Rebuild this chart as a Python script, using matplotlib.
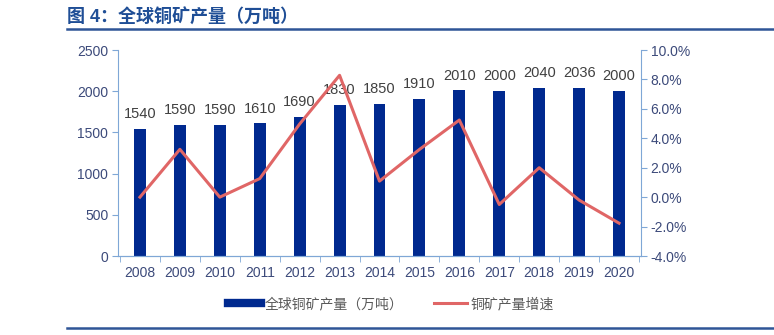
import matplotlib.pyplot as plt
from matplotlib.lines import Line2D
from matplotlib.ticker import FuncFormatter, FixedLocator

plt.rcParams['font.family'] = ['Liberation Sans', 'Noto Sans CJK SC', 'DejaVu Sans']

years = ['2008', '2009', '2010', '2011', '2012', '2013', '2014',
         '2015', '2016', '2017', '2018', '2019', '2020']
output = [1540, 1590, 1590, 1610, 1690, 1830, 1850, 1910, 2010, 2000, 2040, 2036, 2000]
growth = [0.0, 3.25, 0.0, 1.26, 4.97, 8.28, 1.09, 3.24, 5.24, -0.50, 2.00, -0.20, -1.77]

bar_color = '#00298f'
line_color = '#e06666'
axis_color = '#7fa7d6'
label_color = '#3c4a7a'
rule_color = '#2f5597'

fig = plt.figure(figsize=(7.74, 3.35), dpi=100)
ax = fig.add_axes([118 / 774, 1 - 256 / 335, (641 - 118) / 774, (256 - 50) / 335])
x = list(range(len(years)))

ax.bar(x, output, width=0.3, color=bar_color, zorder=2)
for xi, v in zip(x, output):
    ax.text(xi, v + 95, str(v), ha='center', va='bottom', fontsize=10.5, color='#404040')
ax.set_ylim(0, 2500)
ax.set_yticks(range(0, 2501, 500))
ax.set_xlim(-0.55, 12.55)
ax.set_xticks(x)
ax.set_xticklabels(years)
ax.xaxis.set_minor_locator(FixedLocator([i + 0.5 for i in range(-1, len(years))]))
ax.tick_params(axis='x', which='major', length=0, pad=7, labelsize=10, labelcolor=label_color)
ax.tick_params(axis='x', which='minor', length=4, color=axis_color, direction='out')
ax.tick_params(axis='y', length=4, color=axis_color, labelsize=10, labelcolor=label_color, pad=3)

ax2 = ax.twinx()
ax2.plot(x, growth, color=line_color, lw=2.2, zorder=3)
ax2.set_ylim(-4, 10)
ax2.set_yticks(range(-4, 11, 2))
ax2.yaxis.set_major_formatter(FuncFormatter(lambda v, _: f'{v:.1f}%'))
ax2.tick_params(axis='y', length=4, color=axis_color, labelsize=10, labelcolor=label_color, pad=3)

for a in (ax, ax2):
    a.spines['top'].set_visible(False)
    a.spines['left'].set_color(axis_color)
    a.spines['right'].set_color(axis_color)
    a.spines['bottom'].set_color(axis_color)
ax.spines['right'].set_visible(False)
ax2.spines['left'].set_visible(False)

# header and footer rules
fig.text(67 / 774, 1 - 18 / 335, '图 4：全球铜矿产量（万吨）', fontsize=13, fontweight='bold',
         color='#1f4e96', va='center', ha='left')
fig.add_artist(Line2D([67 / 774, 1.0], [1 - 29 / 335] * 2, color=rule_color, lw=1.8))
fig.add_artist(Line2D([67 / 774, 1.0], [1 - 328 / 335] * 2, color=rule_color, lw=1.8))

handles = [Line2D([], [], color=bar_color, lw=6), Line2D([], [], color=line_color, lw=2.2)]
fig.legend(handles, ['全球铜矿产量（万吨）', '铜矿产量增速'], loc='center',
           bbox_to_anchor=(391 / 774, 1 - 304 / 335), ncol=2, frameon=False,
           fontsize=10, labelcolor='#595959', handlelength=2.4, handletextpad=0.25,
           columnspacing=2.2)

fig.savefig('out.png', dpi=100, facecolor='white')
